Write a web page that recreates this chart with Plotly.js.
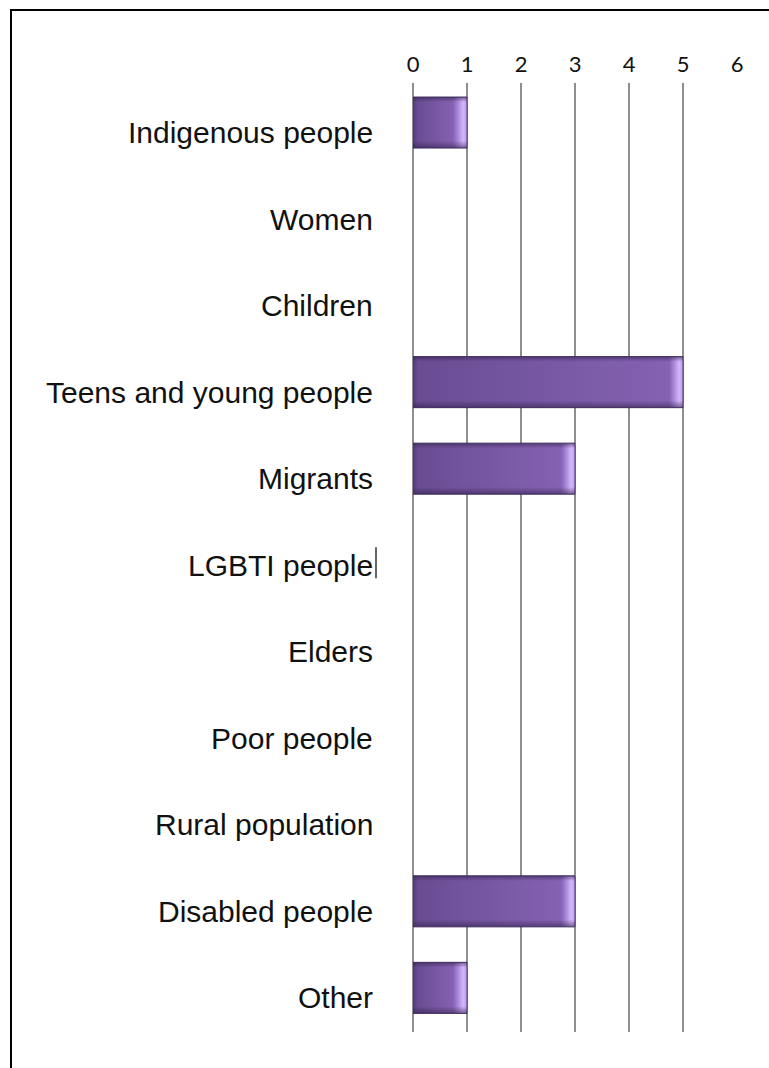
<!DOCTYPE html>
<html>
<head>
<meta charset="utf-8">
<script src="https://cdn.plot.ly/plotly-3.0.1.min.js"></script>
<style>
  html, body { margin: 0; padding: 0; background: #fff; }
  #wrap { position: relative; width: 769px; height: 1068px; overflow: hidden; }
  #chart { position: absolute; left: 0; top: 0; width: 769px; height: 1068px; }
  #frame { position: absolute; left: 10px; top: 9px; width: 800px; height: 1100px;
           border-left: 2px solid #000; border-top: 2px solid #000; pointer-events: none; }
</style>
</head>
<body>
<div id="wrap">
  <div id="chart"></div>
  <div id="frame"></div>
</div>
<script>
// ---- data ----
const categories = [
  "Indigenous people",
  "Women",
  "Children",
  "Teens and young people",
  "Migrants",
  "LGBTI people",
  "Elders",
  "Poor people",
  "Rural population",
  "Disabled people",
  "Other"
];
const values = [1, 0, 0, 5, 3, 0, 0, 0, 0, 3, 1];
const tickValues = [0, 1, 2, 3, 4, 5, 6];
const tickLabels = ["0", "1", "2", "3", "4", "5", "6"];

const labelFont = { family: "Arial, 'Liberation Sans', sans-serif", size: 30, color: "#111" };

const trace = {
  type: "bar",
  orientation: "h",
  x: values,
  y: categories,
  width: 0.59,
  marker: {
    color: "#7758a6",
    line: { color: "#4d3a6c", width: 0 }
  },
  hoverinfo: "skip"
};

const annotations = categories.map(c => ({
  xref: "paper", yref: "y",
  x: 0, y: c,
  xanchor: "right", yanchor: "middle",
  xshift: -38, yshift: -10,
  text: c, showarrow: false,
  font: labelFont
}));

const cursorIdx = categories.indexOf("LGBTI people");

const layout = {
  width: 769,
  height: 1068,
  margin: { l: 413, r: 32, t: 83, b: 36, pad: 0 },
  paper_bgcolor: "#ffffff",
  plot_bgcolor: "#ffffff",
  showlegend: false,
  xaxis: {
    side: "top",
    range: [0, 6],
    tickmode: "array",
    tickvals: tickValues,
    ticktext: tickLabels,
    showgrid: true,
    gridcolor: "#8e8e8e",
    gridwidth: 2,
    zeroline: true,
    zerolinecolor: "#8e8e8e",
    zerolinewidth: 2,
    showline: false,
    ticks: "",
    ticklabelstandoff: 6,
    tickfont: { family: "Lato, 'Open Sans', sans-serif", size: 22, color: "#111" },
    fixedrange: true
  },
  yaxis: {
    type: "category",
    categoryorder: "array",
    categoryarray: categories,
    range: [10.51, -0.457],
    showticklabels: false,
    showgrid: false,
    zeroline: false,
    showline: false,
    ticks: "",
    fixedrange: true
  },
  annotations: annotations,
  shapes: [{
    type: "line",
    xref: "paper", yref: "y",
    xsizemode: "pixel", xanchor: 0,
    x0: -37, x1: -37,
    ysizemode: "pixel", yanchor: cursorIdx,
    y0: -23, y1: 8,
    line: { color: "#000", width: 1.2 }
  }]
};

const gd = document.getElementById("chart");
Plotly.newPlot(gd, [trace], layout, { staticPlot: true, displayModeBar: false }).then(() => {
  const NS = "http://www.w3.org/2000/svg";
  const defs = gd.querySelector(".main-svg defs") || gd.querySelector("defs");

  // vertical edge shading (shared, relative to each bar)
  const vg = document.createElementNS(NS, "linearGradient");
  vg.setAttribute("id", "barShade");
  vg.setAttribute("x1", 0); vg.setAttribute("x2", 0);
  vg.setAttribute("y1", 0); vg.setAttribute("y2", 1);
  [[0, "#2e1f47", 0.55], [0.1, "#2e1f47", 0.0], [0.86, "#2e1f47", 0.0], [1, "#2e1f47", 0.55]].forEach(([o, c, a]) => {
    const s = document.createElementNS(NS, "stop");
    s.setAttribute("offset", o);
    s.setAttribute("stop-color", c);
    s.setAttribute("stop-opacity", a);
    vg.appendChild(s);
  });
  defs.appendChild(vg);

  const paths = gd.querySelectorAll(".barlayer .point path");
  paths.forEach((p, i) => {
    let bb;
    try { bb = p.getBBox(); } catch (e) { return; }
    if (!bb || bb.width < 2) { p.style.stroke = "none"; p.style.strokeWidth = 0; return; }
    const w = bb.width;
    const g = document.createElementNS(NS, "linearGradient");
    const id = "barGrad" + i;
    g.setAttribute("id", id);
    g.setAttribute("gradientUnits", "userSpaceOnUse");
    g.setAttribute("x1", bb.x);
    g.setAttribute("x2", bb.x + w);
    g.setAttribute("y1", 0);
    g.setAttribute("y2", 0);
    const f = px => Math.max(0, Math.min(1, px / w));
    const stops = [
      [0, "#553b7c"],
      [f(5), "#694c93"],
      [f(w - 14), "#8562b2"],
      [f(w - 10), "#a17fd3"],
      [f(w - 4), "#d2b6fa"],
      [1, "#c09cf0"]
    ];
    stops.forEach(([o, c]) => {
      const s = document.createElementNS(NS, "stop");
      s.setAttribute("offset", o);
      s.setAttribute("stop-color", c);
      g.appendChild(s);
    });
    defs.appendChild(g);
    p.style.fill = "url(#" + id + ")";
    p.style.stroke = "#4a3768";
    p.style.strokeWidth = "1px";
    p.style.strokeOpacity = 1;

    const shade = p.cloneNode(false);
    shade.style.fill = "url(#barShade)";
    shade.style.fillOpacity = 1;
    shade.style.stroke = "none";
    p.parentNode.appendChild(shade);
  });
});
</script>
</body>
</html>
